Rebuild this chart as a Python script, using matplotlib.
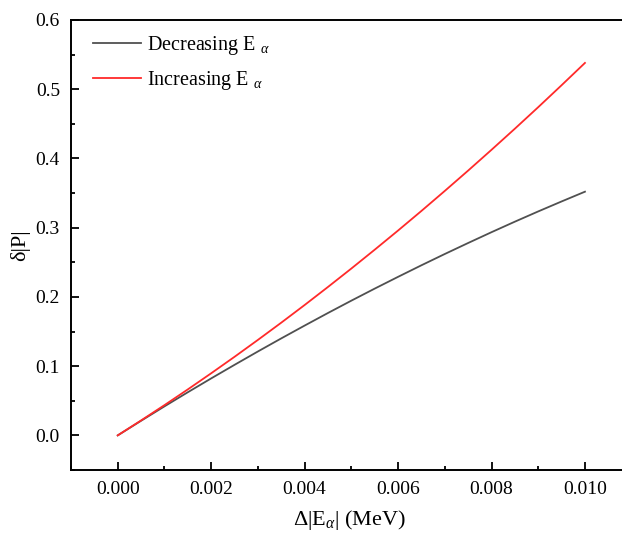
import matplotlib
matplotlib.use("Agg")
import matplotlib.pyplot as plt
from matplotlib.ticker import MultipleLocator

plt.rcParams['font.family'] = ['Liberation Serif', 'DejaVu Serif']
plt.rcParams['mathtext.fontset'] = 'custom'
plt.rcParams['mathtext.rm'] = 'Liberation Serif'
plt.rcParams['mathtext.it'] = 'Liberation Serif:italic'

# delta |E_alpha| in MeV
delta_e = [0.0, 0.0005, 0.001, 0.0015, 0.002, 0.0025, 0.003, 0.0035, 0.004, 0.0045,
           0.005, 0.0055, 0.006, 0.0065, 0.007, 0.0075, 0.008, 0.0085, 0.009, 0.0095, 0.010]

decreasing = [0.0, 0.0211, 0.0419, 0.0623, 0.0823, 0.1019, 0.1212, 0.1401, 0.1586, 0.1768,
              0.1946, 0.2120, 0.2290, 0.2457, 0.2620, 0.2779, 0.2935, 0.3087, 0.3235, 0.3379, 0.352]

increasing = [0.0, 0.0216, 0.0437, 0.0664, 0.0897, 0.1135, 0.1379, 0.1628, 0.1883, 0.2144,
              0.2410, 0.2682, 0.2959, 0.3242, 0.3531, 0.3825, 0.4125, 0.4430, 0.4741, 0.5058, 0.538]

fig = plt.figure(figsize=(6.22, 5.34), dpi=100)
ax = fig.add_axes([71 / 622, 64 / 534, 556 / 622, 450 / 534])

ax.plot(delta_e, decreasing, color='#505050', lw=1.3, label=r'Decreasing E $_\alpha$')
ax.plot(delta_e, increasing, color='#ff2a2a', lw=1.3, label=r'Increasing E $_\alpha$')

ax.set_xlim(-0.001, 0.0109)
ax.set_ylim(-0.05, 0.6)
ax.xaxis.set_major_locator(MultipleLocator(0.002))
ax.xaxis.set_minor_locator(MultipleLocator(0.001))
ax.yaxis.set_major_locator(MultipleLocator(0.1))
ax.yaxis.set_minor_locator(MultipleLocator(0.05))
ax.xaxis.set_major_formatter(plt.FormatStrFormatter('%.3f'))
ax.yaxis.set_major_formatter(plt.FormatStrFormatter('%.1f'))

ax.tick_params(which='both', direction='in', top=False, right=False, labelsize=14, width=1.3)
ax.tick_params(which='major', length=6, pad=8)
ax.tick_params(which='minor', length=3)
for s in ax.spines.values():
    s.set_linewidth(1.4)

ax.set_xlabel(r'$\Delta|$E$_\alpha|$ (MeV)', fontsize=16, labelpad=7)
ax.set_ylabel('δ|P|', fontsize=16, labelpad=4)

ax.legend(loc='upper left', bbox_to_anchor=(22 / 556, 1 - 14 / 450), frameon=False,
          fontsize=14.5, handlelength=2.4, borderpad=0, borderaxespad=0,
          handletextpad=0.3, labelspacing=0.6)

fig.savefig('out.png', dpi=100)
